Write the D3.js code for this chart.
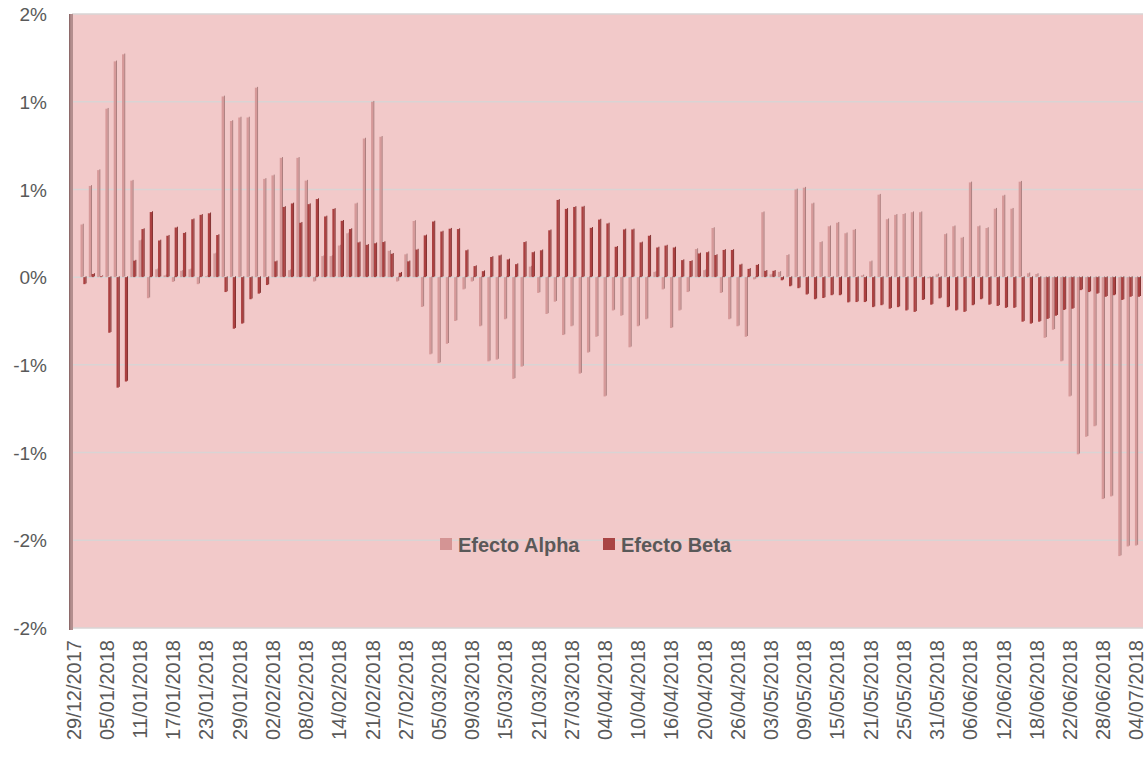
<!DOCTYPE html>
<meta charset="utf-8">
<head>
    <title>Efecto Alpha / Efecto Beta</title>
    <script src="https://d3js.org/d3.v7.min.js"></script>
    <style>
        body { margin: 0; background: #ffffff; }
        text { font-family: "Liberation Sans", Arial, sans-serif; fill: #595959; }
    </style>
</head>
<body>
<div id="my_dataviz"></div>
<script>

// trading days (category axis)
var dates = [
    "29/12/2017",
    "02/01/2018","03/01/2018","04/01/2018","05/01/2018",
    "08/01/2018","09/01/2018","10/01/2018","11/01/2018",
    "12/01/2018","15/01/2018","16/01/2018","17/01/2018",
    "18/01/2018","19/01/2018","22/01/2018","23/01/2018",
    "24/01/2018","25/01/2018","26/01/2018","29/01/2018",
    "30/01/2018","31/01/2018","01/02/2018","02/02/2018",
    "05/02/2018","06/02/2018","07/02/2018","08/02/2018",
    "09/02/2018","12/02/2018","13/02/2018","14/02/2018",
    "15/02/2018","16/02/2018","20/02/2018","21/02/2018",
    "22/02/2018","23/02/2018","26/02/2018","27/02/2018",
    "28/02/2018","01/03/2018","02/03/2018","05/03/2018",
    "06/03/2018","07/03/2018","08/03/2018","09/03/2018",
    "12/03/2018","13/03/2018","14/03/2018","15/03/2018",
    "16/03/2018","19/03/2018","20/03/2018","21/03/2018",
    "22/03/2018","23/03/2018","26/03/2018","27/03/2018",
    "28/03/2018","29/03/2018","03/04/2018","04/04/2018",
    "05/04/2018","06/04/2018","09/04/2018","10/04/2018",
    "11/04/2018","12/04/2018","13/04/2018","16/04/2018",
    "17/04/2018","18/04/2018","19/04/2018","20/04/2018",
    "23/04/2018","24/04/2018","25/04/2018","26/04/2018",
    "27/04/2018","30/04/2018","02/05/2018","03/05/2018",
    "04/05/2018","07/05/2018","08/05/2018","09/05/2018",
    "10/05/2018","11/05/2018","14/05/2018","15/05/2018",
    "16/05/2018","17/05/2018","18/05/2018","21/05/2018",
    "22/05/2018","23/05/2018","24/05/2018","25/05/2018",
    "28/05/2018","29/05/2018","30/05/2018","31/05/2018",
    "01/06/2018","04/06/2018","05/06/2018","06/06/2018",
    "07/06/2018","08/06/2018","11/06/2018","12/06/2018",
    "13/06/2018","14/06/2018","15/06/2018","18/06/2018",
    "19/06/2018","20/06/2018","21/06/2018","22/06/2018",
    "25/06/2018","26/06/2018","27/06/2018","28/06/2018",
    "29/06/2018","02/07/2018","03/07/2018","04/07/2018"
];

// values in %
var alpha = [
    0.00, 0.30, 0.52, 0.61, 0.96, 1.23, 1.27, 0.55, 0.21, -0.12,
    0.045, 0.01, -0.027, 0.036, 0.045, -0.04, 0.005, 0.135, 1.03, 0.89,
    0.91, 0.91, 1.08, 0.56, 0.58, 0.68, 0.04, 0.68, 0.55, -0.025,
    0.12, 0.12, 0.18, 0.25, 0.42, 0.79, 1.00, 0.80, 0.15, -0.025,
    0.13, 0.32, -0.17, -0.44, -0.49, -0.38, -0.25, -0.07, -0.025, -0.28,
    -0.48, -0.47, -0.24, -0.58, -0.51, 0.06, -0.09, -0.21, -0.14, -0.33,
    -0.28, -0.55, -0.43, -0.34, -0.68, -0.19, -0.22, -0.40, -0.28, -0.24,
    0.03, -0.07, -0.29, -0.19, -0.085, 0.16, 0.04, 0.28, -0.09, -0.24,
    -0.28, -0.34, -0.013, 0.37, 0.016, 0.03, 0.126, 0.50, 0.51, 0.42,
    0.20, 0.29, 0.31, 0.25, 0.27, 0.01, 0.09, 0.47, 0.33, 0.355,
    0.36, 0.37, 0.37, -0.007, 0.016, 0.245, 0.29, 0.225, 0.54, 0.29,
    0.28, 0.39, 0.465, 0.39, 0.544, 0.022, 0.018, -0.346, -0.30, -0.48,
    -0.68, -1.01, -0.91, -0.85, -1.265, -1.25, -1.59, -1.535, -1.53
];

var beta = [
    0.00, -0.04, 0.018, 0.005, -0.317, -0.63, -0.595, 0.094, 0.274, 0.371,
    0.209, 0.236, 0.283, 0.252, 0.33, 0.355, 0.364, 0.24, -0.085, -0.294,
    -0.265, -0.126, -0.094, -0.045, 0.09, 0.40, 0.42, 0.31, 0.416, 0.445,
    0.346, 0.389, 0.321, 0.274, 0.198, 0.184, 0.193, 0.20, 0.133, 0.025,
    0.09, 0.157, 0.238, 0.317, 0.26, 0.276, 0.274, 0.153, 0.063, 0.034,
    0.115, 0.124, 0.101, 0.074, 0.20, 0.142, 0.153, 0.267, 0.44, 0.389,
    0.40, 0.402, 0.281, 0.328, 0.306, 0.173, 0.272, 0.272, 0.198, 0.236,
    0.169, 0.18, 0.169, 0.097, 0.092, 0.135, 0.142, 0.126, 0.155, 0.155,
    0.072, 0.047, 0.07, 0.036, 0.036, -0.018, -0.052, -0.063, -0.099, -0.126,
    -0.119, -0.103, -0.103, -0.144, -0.142, -0.142, -0.171, -0.16, -0.18, -0.171,
    -0.19, -0.198, -0.13, -0.157, -0.121, -0.171, -0.19, -0.198, -0.16, -0.126,
    -0.157, -0.164, -0.175, -0.175, -0.254, -0.265, -0.254, -0.238, -0.22, -0.187,
    -0.18, -0.074, -0.085, -0.094, -0.112, -0.103, -0.13, -0.112, -0.112
];

var yTicks = [1.5, 1, 0.5, 0, -0.5, -1, -1.5, -2];
var yTickLabels = ["2%", "1%", "1%", "0%", "-1%", "-1%", "-2%", "-2%"];

var seriesNames = ["Efecto Alpha", "Efecto Beta"];

// set dimensions
var width = 1147, height = 762;
var plot = {left: 72, right: 1143, top: 14, bottom: 628};

var svg = d3.select("#my_dataviz")
    .append("svg")
    .attr("width", width)
    .attr("height", height);

// scales
var x = d3.scaleBand()
    .domain(dates)
    .range([plot.left, plot.right])
    .padding(0);

var y = d3.scaleLinear()
    .domain([-2, 1.5])
    .range([plot.bottom, plot.top]);

// plot background (back wall)
svg.append("rect")
    .attr("x", plot.left)
    .attr("y", plot.top)
    .attr("width", plot.right - plot.left)
    .attr("height", plot.bottom - plot.top)
    .style("fill", "#F2C9C9");

// gridlines
svg.append("g")
    .selectAll("line")
    .data(yTicks)
    .enter()
    .append("line")
        .attr("x1", plot.left)
        .attr("x2", plot.right)
        .attr("y1", function(d) { return y(d); })
        .attr("y2", function(d) { return y(d); })
        .attr("stroke", "#D9D4D4")
        .attr("stroke-width", 1.5);

// left side wall
svg.append("rect")
    .attr("x", plot.left - 3)
    .attr("y", plot.top)
    .attr("width", 4)
    .attr("height", plot.bottom - plot.top + 2)
    .style("fill", "#B38E8E");
svg.append("rect")
    .attr("x", plot.left - 3)
    .attr("y", plot.top)
    .attr("width", 1.2)
    .attr("height", plot.bottom - plot.top + 2)
    .style("fill", "#8E6A6A");

// Y axis labels
var yAxis = d3.axisLeft(y)
    .tickValues(yTicks)
    .tickSize(0)
    .tickPadding(0)
    .tickFormat(function(d, i) { return yTickLabels[i]; });
var gy = svg.append("g")
    .attr("transform", "translate(47,0)")
    .call(yAxis);
gy.select(".domain").remove();
gy.selectAll("text")
    .style("font-size", "19px")
    .style("font-family", "Liberation Sans, Arial, sans-serif")
    .attr("fill", "#595959")
    .attr("dy", "0.35em");

// X axis labels (every 4th trading day)
var xAxis = d3.axisBottom(x)
    .tickValues(dates.filter(function(d, i) { return i % 4 === 0; }))
    .tickSize(0)
    .tickPadding(0);
var gx = svg.append("g")
    .attr("transform", "translate(-2.5," + (plot.bottom + 12) + ")")
    .call(xAxis);
gx.select(".domain").remove();
gx.selectAll("text")
    .style("font-size", "20px")
    .style("font-family", "Liberation Sans, Arial, sans-serif")
    .attr("fill", "#595959")
    .attr("text-anchor", "end")
    .attr("transform", "rotate(-90)")
    .attr("x", 0)
    .attr("y", 0)
    .attr("dy", "0.35em");

// bars drawn as thin 3D columns: front face + darker side
function drawSeries(values, offset, front, side) {
    var g = svg.append("g");
    var rows = dates.map(function(d, i) { return {date: d, v: values[i]}; });
    g.selectAll(".front")
        .data(rows)
        .enter()
        .append("rect")
            .attr("x", function(d) { return x(d.date) + offset; })
            .attr("y", function(d) { return Math.min(y(d.v), y(0)); })
            .attr("width", 2.3)
            .attr("height", function(d) { return Math.abs(y(d.v) - y(0)); })
            .style("fill", front);
    g.selectAll(".side")
        .data(rows)
        .enter()
        .append("rect")
            .attr("x", function(d) { return x(d.date) + offset + 2.3; })
            .attr("y", function(d) { return Math.min(y(d.v), y(0)) - 0.8; })
            .attr("width", 0.9)
            .attr("height", function(d) { return Math.abs(y(d.v) - y(0)); })
            .style("fill", side);
}
drawSeries(alpha, 0.2, "#D69999", "#A57878");
drawSeries(beta, 3.0, "#AB4040", "#7A2424");

// legend
var legendX = [440, 603];
var legendColors = ["#D49494", "#A94444"];
seriesNames.forEach(function(name, i) {
    svg.append("rect")
        .attr("x", legendX[i]).attr("y", 538)
        .attr("width", 12).attr("height", 12)
        .style("fill", legendColors[i]);
    svg.append("text")
        .attr("x", legendX[i] + 18).attr("y", 552)
        .text(name)
        .style("font-size", "20px")
        .style("font-weight", "bold")
        .attr("fill", "#595959");
});

</script>
</body>
</html>
